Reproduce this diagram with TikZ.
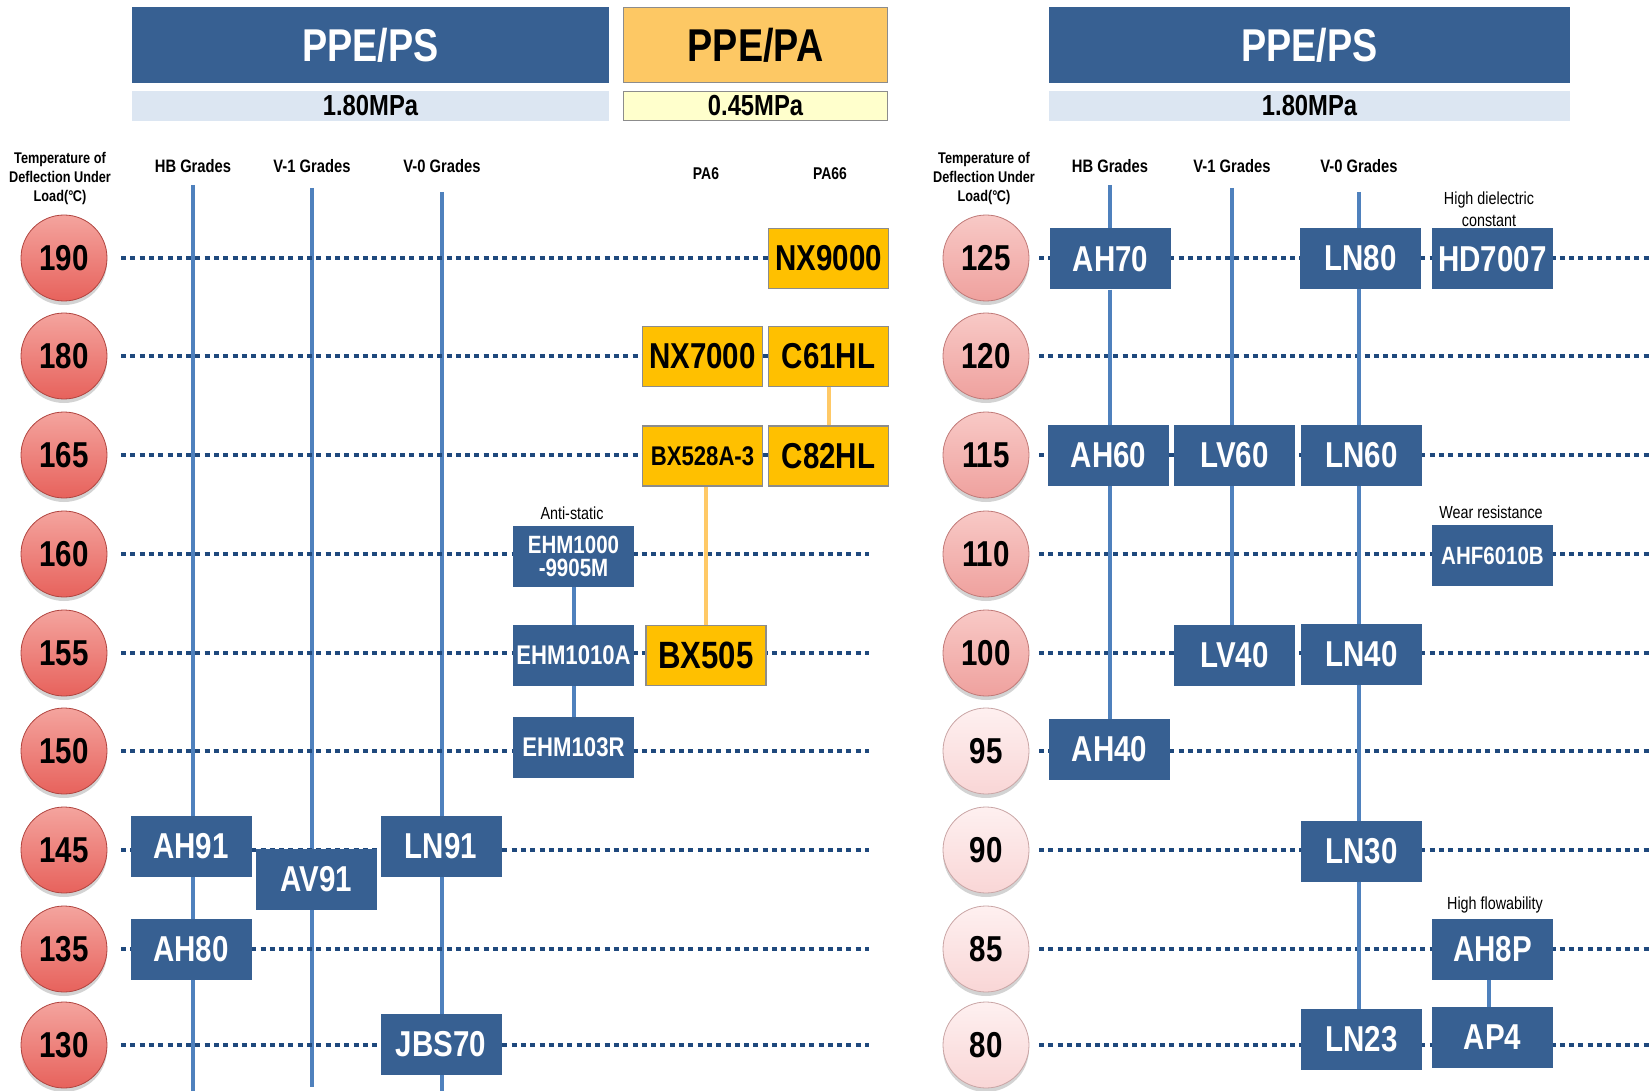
\documentclass[tikz,border=0pt]{standalone}
\usepackage{fontspec}
\setmainfont{Liberation Sans}
\newfontfamily\nar[FakeStretch=0.82]{Liberation Sans}
\usetikzlibrary{shadows}
\definecolor{hdrblue}{HTML}{376092}
\definecolor{subblue}{HTML}{DCE6F2}
\definecolor{hdrorange}{HTML}{FDC864}
\definecolor{subyellow}{HTML}{FFFFCC}
\definecolor{boxorange}{HTML}{FFC000}
\definecolor{lineorange}{HTML}{FFC966}
\definecolor{lineblue}{HTML}{4F81BD}
\definecolor{dotblue}{HTML}{1F497D}
\definecolor{boxgray}{HTML}{8C8C8C}
\definecolor{redtop}{HTML}{F4A49E}
\definecolor{redmid}{HTML}{EA5F5A}
\definecolor{redbot}{HTML}{E7625C}
\definecolor{rededge}{HTML}{B04540}
\definecolor{pinktop}{HTML}{F8C9C6}
\definecolor{pinkmid}{HTML}{EF9D9A}
\definecolor{pinkbot}{HTML}{EFA19E}
\definecolor{pinkedge}{HTML}{C07A78}
\definecolor{ltop}{HTML}{FEF0F0}
\definecolor{lmid}{HTML}{FAD8D8}
\definecolor{lbot}{HTML}{F9D6D6}
\definecolor{ledge}{HTML}{C9A5A5}
\begin{document}
\begin{tikzpicture}[x=1pt,y=-1pt,
  hdrB/.style={rectangle, fill=hdrblue, text=white, inner sep=0, minimum height=76pt,
    font=\nar\bfseries\fontsize{46}{50}\selectfont},
  subB/.style={rectangle, fill=subblue, text=black, inner sep=0, minimum height=30pt,
    font=\nar\bfseries\fontsize{29}{32}\selectfont},
  hdrO/.style={rectangle, fill=hdrorange, draw=boxgray, line width=1.5pt, text=black, inner sep=0,
    minimum width=264pt, minimum height=75pt, font=\nar\bfseries\fontsize{46}{50}\selectfont},
  subY/.style={rectangle, fill=subyellow, draw=boxgray, line width=1.5pt, text=black, inner sep=0,
    minimum width=264pt, minimum height=29pt, font=\nar\bfseries\fontsize{29}{32}\selectfont},
  tlabel/.style={align=center, inner sep=0, font=\nar\bfseries\fontsize{15.5}{19}\selectfont},
  glabel/.style={inner sep=0, font=\nar\bfseries\fontsize{18}{20}\selectfont},
  note/.style={align=center, inner sep=0, font=\nar\fontsize{17.5}{22}\selectfont},
  bbox/.style={rectangle, fill=hdrblue, text=white, inner sep=0, minimum width=121pt,
    minimum height=61pt, align=center, font=\nar\bfseries\fontsize{36}{40}\selectfont},
  obox/.style={rectangle, fill=boxorange, draw=boxgray, line width=1.5pt, text=black, inner sep=0,
    minimum width=120pt, minimum height=60pt, font=\nar\bfseries\fontsize{36}{40}\selectfont},
  ball/.style={circle, inner sep=0, minimum size=86pt, line width=0.8pt,
    font=\nar\bfseries\fontsize{36}{40}\selectfont, text=black,
    drop shadow={shadow xshift=0pt, shadow yshift=-4pt, opacity=0.35}},
  redball/.style={ball, draw=rededge, top color=redtop, middle color=redmid, bottom color=redbot},
  pinkball/.style={ball, draw=pinkedge, top color=pinktop, middle color=pinkmid, bottom color=pinkbot},
  lightball/.style={ball, draw=ledge, top color=ltop, middle color=lmid, bottom color=lbot},
  vline/.style={draw=lineblue, line width=4pt},
  oline/.style={draw=lineorange, line width=4pt},
  dotline/.style={draw=dotblue, line width=4pt, dash pattern=on 5pt off 4.3pt}
]
\useasboundingbox (0,0) rectangle (1652,1091);

% ---------- headers ----------
\node[hdrB, minimum width=477pt] (h1) at (370.5,45) {PPE/PS};
\node[subB, minimum width=477pt] (s1) at (370.5,106) {1.80MPa};
\node[hdrO] (h2) at (755.5,45) {PPE/PA};
\node[subY] (s2) at (755.5,106) {0.45MPa};
\node[hdrB, minimum width=521pt] (h3) at (1309.5,45) {PPE/PS};
\node[subB, minimum width=521pt] (s3) at (1309.5,106) {1.80MPa};

% ---------- column labels ----------
\node[tlabel] (tl1) at (60,178) {Temperature of\\Deflection Under\\Load(°\kern-0.5ptC)};
\node[glabel] (g1) at (193,166) {HB Grades};
\node[glabel] (g2) at (312,166) {V-1 Grades};
\node[glabel] (g3) at (442,166) {V-0 Grades};
\node[glabel, font=\nar\bfseries\fontsize{17}{20}\selectfont] (pa6) at (706,174) {PA6};
\node[glabel, font=\nar\bfseries\fontsize{17}{20}\selectfont] (pa66) at (830,174) {PA66};
\node[tlabel] (tl2) at (984,178) {Temperature of\\Deflection Under\\Load(°\kern-0.5ptC)};
\node[glabel] (g4) at (1110,166) {HB Grades};
\node[glabel] (g5) at (1232,166) {V-1 Grades};
\node[glabel] (g6) at (1359,166) {V-0 Grades};

% ---------- vertical grade lines ----------
\coordinate (hbLt) at (193,185);  \coordinate (hbLb) at (193,1091);
\coordinate (v1Lt) at (312,188);  \coordinate (v1Lb) at (312,1087);
\coordinate (v0Lt) at (442,192);  \coordinate (v0Lb) at (442,1091);
\draw[vline] (hbLt) -- (hbLb);
\draw[vline] (v1Lt) -- (v1Lb);
\draw[vline] (v0Lt) -- (v0Lb);
\coordinate (hbRt) at (1110,185);
\coordinate (v1Rt) at (1232,188);
\coordinate (v0Rt) at (1359,192);
\coordinate (apx) at (1489,0);

% ---------- dotted temperature rows ----------
\foreach \n/\y/\e in {190/258/800,180/356/800,165/455/800,160/554/869,155/653/869,150/751/869,145/850/869,135/949/869,130/1045/869}{
  \coordinate (Ls\n) at (121,\y);
  \coordinate (Le\n) at (\e,\y);
  \draw[dotline] (Ls\n) -- (Le\n);
}
\foreach \n/\y in {125/258,120/356,115/455,110/554,100/653,95/751,90/850,85/949,80/1045}{
  \coordinate (Rs\n) at (1039,\y);
  \coordinate (Re\n) at (1660,\y);
  \draw[dotline] (Rs\n) -- (Re\n);
}

% ---------- circles ----------
\foreach \n/\y in {190/258,180/356,165/455,160/554,155/653,150/751,145/850,135/949,130/1045}{
  \node[redball] (c\n) at (64,\y) {\n};
}
\foreach \n/\y in {125/258,120/356,115/455,110/554,100/653}{
  \node[pinkball] (d\n) at (986,\y) {\n};
}
\foreach \n/\y in {95/751,90/850,85/949,80/1045}{
  \node[lightball] (d\n) at (986,\y) {\n};
}

% ---------- left grade boxes ----------
\node[obox] (nx9000) at (828.5,258.5) {NX9000};
\node[obox] (nx7000) at (702.5,356.5) {NX7000};
\node[obox] (c61hl) at (828.5,356.5) {C61HL};
\node[obox, font=\nar\bfseries\fontsize{27}{30}\selectfont] (bx528) at (702.5,456) {BX528A-3};
\node[obox] (c82hl) at (828.5,456) {C82HL};
\node[obox, font=\nar\bfseries\fontsize{38}{40}\selectfont] (bx505) at (706,655.5) {BX505};
\node[bbox, font=\nar\bfseries\fontsize{25}{23.5}\selectfont] (ehm1000) at (573.5,556.5) {EHM1000\\-9905M};
\node[bbox, font=\nar\bfseries\fontsize{27}{30}\selectfont] (ehm1010) at (573.5,655.5) {EHM1010A};
\node[bbox, font=\nar\bfseries\fontsize{27}{30}\selectfont] (ehm103) at (573.5,747.5) {EHM103R};
\node[bbox] (ah91) at (191,846.5) {AH91};
\node[bbox] (av91) at (316.5,879) {AV91};
\node[bbox] (ln91) at (441,846.5) {LN91};
\node[bbox] (ah80) at (191,949) {AH80};
\node[bbox] (jbs70) at (441,1044) {JBS70};

% connectors between left boxes
\draw[oline] (c61hl.south) -- (c82hl.north);
\draw[oline] (bx528.south -| bx505.north) -- (bx505.north);
\draw[vline] (ehm1000.south) -- (ehm1010.north);
\draw[vline] (ehm1010.south) -- (ehm103.north);

\node[note] (antistatic) at (572,513) {Anti-static};

% ---------- right grade boxes ----------
\node[bbox] (ah70) at (1110.5,259) {AH70};
\node[bbox] (ln80) at (1360.5,258.5) {LN80};
\node[bbox] (hd7007) at (1492.5,259) {HD7007};
\node[bbox] (ah60) at (1108.5,455.5) {AH60};
\node[bbox] (lv60) at (1234.5,455.5) {LV60};
\node[bbox] (ln60) at (1361.5,455.5) {LN60};
\node[bbox, font=\nar\bfseries\fontsize{25}{30}\selectfont] (ahf) at (1492.5,555.5) {AHF6010B};
\node[bbox] (lv40) at (1234.5,655.5) {LV40};
\node[bbox] (ln40) at (1361.5,654.5) {LN40};
\node[bbox] (ah40) at (1109.5,749.5) {AH40};
\node[bbox] (ln30) at (1361.5,851.5) {LN30};
\node[bbox] (ah8p) at (1492.5,949.5) {AH8P};
\node[bbox] (ln23) at (1361.5,1039.5) {LN23};
\node[bbox] (ap4) at (1492.5,1037.5) {AP4};

% right vertical lines (drawn between boxes)
\draw[vline] (hbRt) -- (hbRt |- ah70.north);
\draw[vline] (ah70.south -| hbRt) -- (ah60.north -| hbRt);
\draw[vline] (ah60.south -| hbRt) -- (ah40.north -| hbRt);
\draw[vline] (v1Rt) -- (lv60.north -| v1Rt);
\draw[vline] (lv60.south -| v1Rt) -- (lv40.north -| v1Rt);
\draw[vline] (v0Rt) -- (ln80.north -| v0Rt);
\draw[vline] (ln80.south -| v0Rt) -- (ln60.north -| v0Rt);
\draw[vline] (ln60.south -| v0Rt) -- (ln40.north -| v0Rt);
\draw[vline] (ln40.south -| v0Rt) -- (ln30.north -| v0Rt);
\draw[vline] (ln30.south -| v0Rt) -- (ln23.north -| v0Rt);
\draw[vline] (ah8p.south -| apx) -- (ap4.north -| apx);

\node[note] (hdc) at (1489,209) {High dielectric\\constant};
\node[note] (wear) at (1491,512) {Wear resistance};
\node[note] (flow) at (1495,905) {High flowability};
\end{tikzpicture}
\end{document}
